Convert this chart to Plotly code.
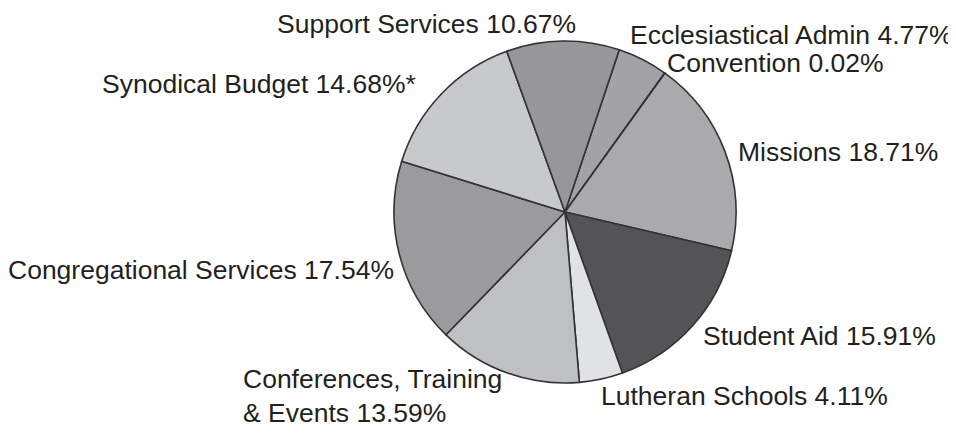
import plotly.graph_objects as go

labels = ["Ecclesiastical Admin", "Convention", "Missions", "Student Aid",
          "Lutheran Schools", "Conferences, Training<br>& Events",
          "Congregational Services", "Synodical Budget", "Support Services"]
values = [4.77, 0.02, 18.71, 15.91, 4.11, 13.59, 17.54, 14.68, 10.67]
suffix = ["", "", "", "", "", "", "", "*", ""]
colors = ["#a3a3a5", "#333333", "#aaaaac", "#545456", "#e1e2e4",
          "#bfc0c2", "#9b9b9d", "#c8c9cb", "#97979a"]

# the page body has an 8px margin; the figure fills the rest of the window
OFF = 8
W, H = 956 - OFF, 434 - OFF
cx, cy, r = 565 - OFF, 212 - OFF, 171

fig = go.Figure(go.Pie(
    labels=labels, values=values, sort=False, direction="clockwise",
    rotation=18.5, textinfo="none", hoverinfo="label+percent",
    marker=dict(colors=colors, line=dict(color="#333333", width=1.6)),
    domain=dict(x=[(cx - r) / W, (cx + r) / W],
                y=[(H - cy - r) / H, (H - cy + r) / H]),
    showlegend=False,
))

# label placement (window pixel: left x, y-center)
place = [
    (629, 35),
    (666, 63),
    (737, 152),
    (702, 336),
    (600, 396),
    (242, 396),
    (7, 270),
    (101, 84),
    (276, 24),
]
for lab, val, suf, (px, py) in zip(labels, values, suffix, place):
    fig.add_annotation(
        x=(px - OFF) / W, y=1 - (py - OFF) / H, xref="paper", yref="paper",
        xanchor="left", yanchor="middle", align="left", showarrow=False,
        borderpad=0,
        text=f"{lab} {val:.2f}%{suf}",
        font=dict(family="Liberation Sans, Arial, sans-serif", size=26.5, color="#231f20"),
    )

fig.update_layout(
    width=W, height=H, margin=dict(l=0, r=0, t=0, b=0),
    paper_bgcolor="white", plot_bgcolor="white",
)
fig.write_html("out.html")
